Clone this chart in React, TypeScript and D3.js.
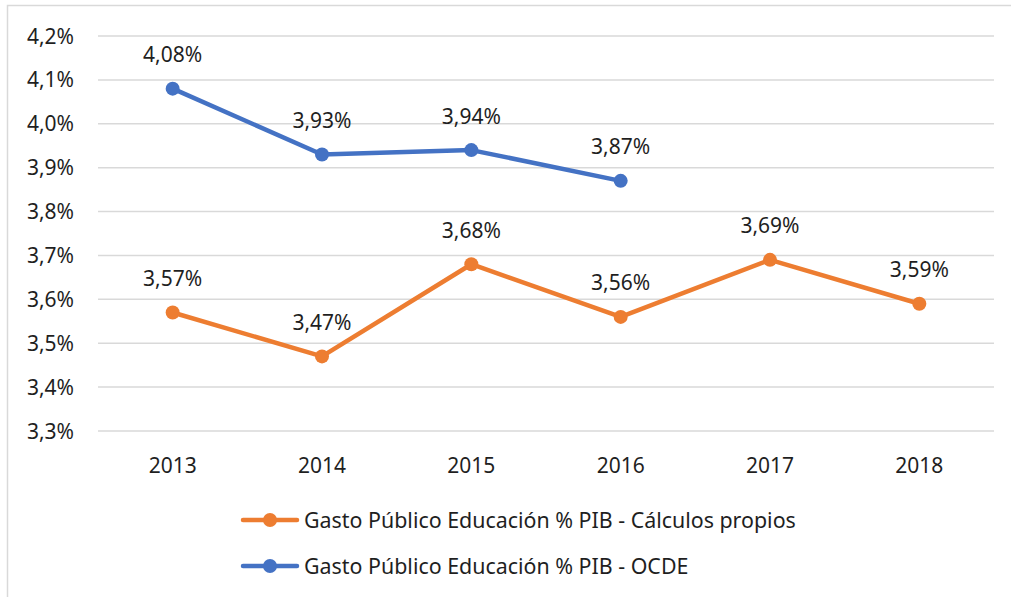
import * as d3 from 'd3';
import { useEffect, useRef } from 'react';

const years = ['2013', '2014', '2015', '2016', '2017', '2018'];
const propiosValues = [3.57, 3.47, 3.68, 3.56, 3.69, 3.59];
const ocdeValues = [4.08, 3.93, 3.94, 3.87];
const yTicks = [3.3, 3.4, 3.5, 3.6, 3.7, 3.8, 3.9, 4.0, 4.1, 4.2];
const seriesNames = [
    'Gasto Público Educación % PIB - Cálculos propios',
    'Gasto Público Educación % PIB - OCDE',
];

const ORANGE = '#ED7D31';
const BLUE = '#4472C4';
const TEXT = '#1f1f1f';
const FONT = '"Noto Sans", sans-serif';

function App() {
    const svgRef = useRef<SVGSVGElement | null>(null);

    useEffect(() => {
        if (!svgRef.current) return;
        const svg = d3.select(svgRef.current);
        svg.selectAll('*').remove();

        const width = 1011;
        const height = 597;
        const plot = { left: 98, right: 994, top: 36, bottom: 431 };

        // outer chart border (only top and left visible)
        svg.append('rect')
            .attr('x', 7.5).attr('y', 5.5)
            .attr('width', width + 20).attr('height', height + 20)
            .attr('fill', 'white')
            .attr('stroke', '#d9d9d9')
            .attr('stroke-width', 1.5);

        const x = d3.scalePoint<string>()
            .domain(years)
            .range([plot.left, plot.right])
            .padding(0.5);

        const y = d3.scaleLinear()
            .domain([3.3, 4.2])
            .range([plot.bottom, plot.top]);

        const fmt = (v: number, digits: number) => v.toFixed(digits).replace('.', ',') + '%';

        // gridlines
        svg.append('g')
            .selectAll('line')
            .data(yTicks)
            .enter().append('line')
            .attr('x1', plot.left).attr('x2', plot.right)
            .attr('y1', d => y(d)).attr('y2', d => y(d))
            .attr('stroke', '#d9d9d9')
            .attr('stroke-width', 1.5);

        // y labels
        svg.append('g')
            .selectAll('text')
            .data(yTicks)
            .enter().append('text')
            .attr('x', 74)
            .attr('y', d => y(d))
            .attr('dy', '0.36em')
            .attr('text-anchor', 'end')
            .attr('font-family', FONT)
            .attr('font-size', 21)
            .attr('fill', TEXT)
            .text(d => fmt(d, 1));

        // x labels
        svg.append('g')
            .selectAll('text')
            .data(years)
            .enter().append('text')
            .attr('x', d => x(d)!)
            .attr('y', 465)
            .attr('dy', '0.36em')
            .attr('text-anchor', 'middle')
            .attr('font-family', FONT)
            .attr('font-size', 21)
            .attr('fill', TEXT)
            .text(d => d);

        const line = d3.line<number>()
            .x((d, i) => x(years[i])!)
            .y(d => y(d));

        const series = [
            { values: propiosValues, color: ORANGE },
            { values: ocdeValues, color: BLUE },
        ];

        series.forEach(s => {
            const g = svg.append('g');
            g.append('path')
                .datum(s.values)
                .attr('d', line)
                .attr('fill', 'none')
                .attr('stroke', s.color)
                .attr('stroke-width', 4.5)
                .attr('stroke-linejoin', 'round')
                .attr('stroke-linecap', 'round');

            g.selectAll('circle')
                .data(s.values)
                .enter().append('circle')
                .attr('cx', (d, i) => x(years[i])!)
                .attr('cy', d => y(d))
                .attr('r', 7)
                .attr('fill', s.color);

            g.selectAll('text')
                .data(s.values)
                .enter().append('text')
                .attr('x', (d, i) => x(years[i])!)
                .attr('y', d => y(d) - 34)
                .attr('dy', '0.36em')
                .attr('text-anchor', 'middle')
                .attr('font-family', FONT)
                .attr('font-size', 21)
                .attr('fill', TEXT)
                .text(d => fmt(d, 2));
        });

        // legend
        const legend = svg.append('g');
        const legendY = [520, 566];
        series.forEach((s, i) => {
            const row = legend.append('g').attr('transform', `translate(0, ${legendY[i]})`);
            row.append('line')
                .attr('x1', 243).attr('x2', 297)
                .attr('y1', 0).attr('y2', 0)
                .attr('stroke', s.color)
                .attr('stroke-width', 4.5)
                .attr('stroke-linecap', 'round');
            row.append('circle')
                .attr('cx', 270).attr('cy', 0)
                .attr('r', 7)
                .attr('fill', s.color);
            row.append('text')
                .attr('x', 304)
                .attr('y', 0)
                .attr('dy', '0.36em')
                .attr('font-family', FONT)
                .attr('font-size', 21.4)
                .attr('fill', TEXT)
                .text(seriesNames[i]);
        });
    }, []);

    return (
        <svg
            ref={svgRef}
            width={1011}
            height={597}
            style={{ position: 'absolute', left: 0, top: 0, background: 'white' }}
        />
    );
}

export default App;
